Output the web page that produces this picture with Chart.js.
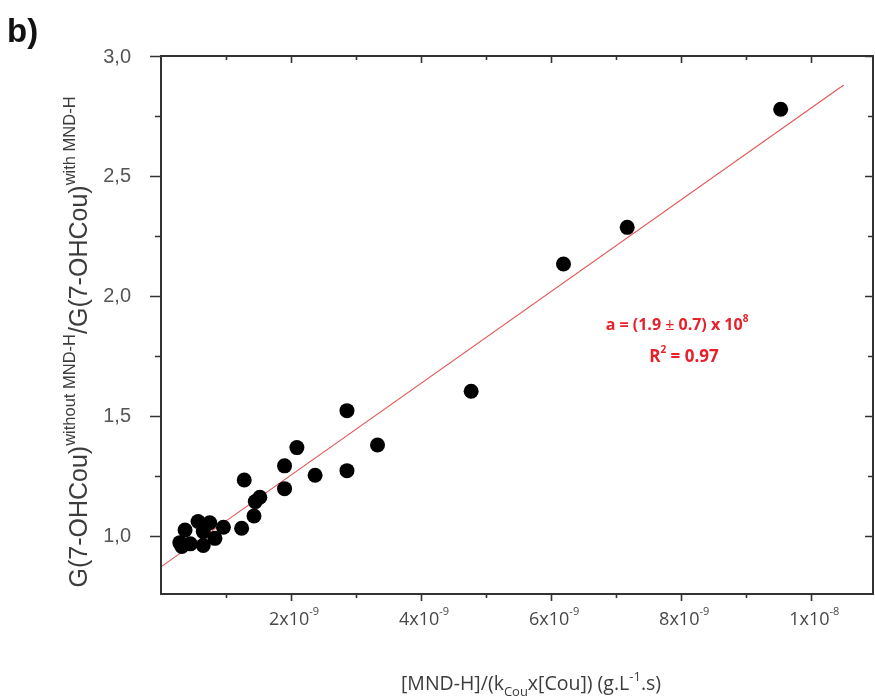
<!DOCTYPE html>
<html lang="en">
<head>
<meta charset="UTF-8">
<title>b) G ratio vs [MND-H]/(kCou x [Cou])</title>
<script src="https://cdn.jsdelivr.net/npm/chart.js"></script>
<style>
    body { margin: 0; background: #ffffff; }
    #wrap { width: 875px; height: 698px; }
</style>
</head>
<body>
<div id="wrap"><canvas id="grafico" width="875" height="698"></canvas></div>
<script>
// data (x in g.L-1.s)
const puntosX = [0.29e-9, 0.32e-9, 0.45e-9, 0.37e-9, 0.57e-9, 0.65e-9, 0.65e-9, 0.75e-9, 0.83e-9, 0.96e-9,
                 1.24e-9, 1.43e-9, 1.45e-9, 1.52e-9, 1.28e-9, 1.90e-9, 1.90e-9, 2.09e-9, 2.37e-9, 2.86e-9,
                 2.86e-9, 3.33e-9, 4.77e-9, 6.19e-9, 7.17e-9, 9.53e-9];
const puntosY = [0.972, 0.956, 0.967, 1.025, 1.060, 1.018, 0.960, 1.055, 0.990, 1.036,
                 1.032, 1.083, 1.143, 1.161, 1.233, 1.197, 1.292, 1.368, 1.253, 1.272,
                 1.522, 1.379, 1.603, 2.133, 2.286, 2.778];
// fitted line end points
const ajusteX = [0, 1.05e-8];
const ajusteY = [0.871, 2.879];

// axes
const xMin = 0, xMax = 1.095e-8;
const yMin = 0.758, yMax = 3.0;
const xMayores = [2e-9, 4e-9, 6e-9, 8e-9, 1e-8];
const xEtiquetas = [['2x10', '-9'], ['4x10', '-9'], ['6x10', '-9'], ['8x10', '-9'], ['1x10', '-8']];
const xMenores = [1e-9, 3e-9, 5e-9, 7e-9, 9e-9];
const yMayores = [1.0, 1.5, 2.0, 2.5, 3.0];
const yEtiquetas = ['1,0', '1,5', '2,0', '2,5', '3,0'];
const yMenores = [1.25, 1.75, 2.25, 2.75];

const rojo = '#e8202a';
const gris = '#3c3c3c';

// draws pieces of text one after another, pieces may be raised or lowered
function textoRico(ctx, partes, x, y) {
    let ancho = 0;
    partes.forEach(p => { ctx.font = p.font; ancho += ctx.measureText(p.t).width; });
    let cx = x - ancho / 2;
    ctx.textAlign = 'left';
    ctx.textBaseline = 'alphabetic';
    partes.forEach(p => {
        ctx.font = p.font;
        ctx.fillText(p.t, cx, y + (p.dy || 0));
        cx += ctx.measureText(p.t).width;
    });
}

const ejes = {
    id: 'ejes',
    afterDraw(chart) {
        const ctx = chart.ctx;
        const a = chart.chartArea;
        const sx = chart.scales.x, sy = chart.scales.y;
        ctx.save();

        // frame
        ctx.strokeStyle = '#333333';
        ctx.lineWidth = 2;
        ctx.strokeRect(a.left, a.top, a.right - a.left, a.bottom - a.top);

        // ticks
        ctx.lineWidth = 1.6;
        ctx.beginPath();
        xMayores.forEach(v => {
            const px = Math.round(sx.getPixelForValue(v)) + 0.5;
            ctx.moveTo(px, a.bottom); ctx.lineTo(px, a.bottom + 7);
            ctx.moveTo(px, a.top); ctx.lineTo(px, a.top + 7);
        });
        xMenores.forEach(v => {
            const px = Math.round(sx.getPixelForValue(v)) + 0.5;
            ctx.moveTo(px, a.bottom); ctx.lineTo(px, a.bottom + 4);
            ctx.moveTo(px, a.top); ctx.lineTo(px, a.top + 4);
        });
        yMayores.forEach(v => {
            const py = Math.round(sy.getPixelForValue(v)) + 0.5;
            ctx.moveTo(a.left - 11, py); ctx.lineTo(a.left, py);
            ctx.moveTo(a.right, py); ctx.lineTo(a.right - 8, py);
        });
        yMenores.forEach(v => {
            const py = Math.round(sy.getPixelForValue(v)) + 0.5;
            ctx.moveTo(a.left - 6, py); ctx.lineTo(a.left, py);
            ctx.moveTo(a.right, py); ctx.lineTo(a.right - 5, py);
        });
        ctx.stroke();

        // y tick labels
        ctx.fillStyle = '#555555';
        ctx.font = '20px "Liberation Sans", Arial, sans-serif';
        ctx.textAlign = 'right';
        ctx.textBaseline = 'middle';
        yMayores.forEach((v, i) => {
            ctx.fillText(yEtiquetas[i], a.left - 30, sy.getPixelForValue(v) + 1);
        });

        // x tick labels
        ctx.fillStyle = '#474747';
        xMayores.forEach((v, i) => {
            const px = sx.getPixelForValue(v);
            textoRico(ctx, [
                { t: xEtiquetas[i][0], font: '18px "Open Sans", sans-serif' },
                { t: xEtiquetas[i][1], font: '11px "Open Sans", sans-serif', dy: -10 }
            ], px + 3, a.bottom + 31);
        });

        // x title
        ctx.fillStyle = '#3c3c3c';
        const f = '19.5px "Open Sans", sans-serif', fs = '13px "Open Sans", sans-serif';
        textoRico(ctx, [
            { t: '[MND-H]/(k', font: f },
            { t: 'Cou', font: fs, dy: 6 },
            { t: 'x[Cou]) (g.L', font: f },
            { t: '-1', font: fs, dy: -9 },
            { t: '.s)', font: f }
        ], 531, a.bottom + 96);

        // y title (rotated)
        ctx.save();
        ctx.translate(87, 342);
        ctx.rotate(-Math.PI / 2);
        ctx.fillStyle = gris;
        const fg = '25px "Liberation Sans", Arial, sans-serif', fsup = '16.5px "Liberation Sans", Arial, sans-serif';
        textoRico(ctx, [
            { t: 'G(7-OHCou)', font: fg },
            { t: 'without MND-H', font: fsup, dy: -12 },
            { t: '/G(7-OHCou)', font: fg },
            { t: 'with MND-H', font: fsup, dy: -12 }
        ], 0, 0);
        ctx.restore();

        // panel letter
        ctx.fillStyle = '#111111';
        ctx.font = 'bold 33px "Liberation Sans", Arial, sans-serif';
        ctx.textAlign = 'left';
        ctx.textBaseline = 'alphabetic';
        ctx.fillText('b)', 7, 42);

        // fit annotation
        ctx.fillStyle = rojo;
        const fb = 'bold 16px "Open Sans", sans-serif', fbs = 'bold 10px "Open Sans", sans-serif';
        textoRico(ctx, [
            { t: 'a = (1.9 ', font: fb },
            { t: '\u00b1', font: '16px "Open Sans", sans-serif' },
            { t: ' 0.7) x 10', font: fb },
            { t: '8', font: fbs, dy: -8 }
        ], 677, 330);
        textoRico(ctx, [
            { t: 'R', font: 'bold 17px "Open Sans", sans-serif' },
            { t: '2', font: fbs, dy: -9 },
            { t: ' = 0.97', font: 'bold 17px "Open Sans", sans-serif' }
        ], 684, 362);

        ctx.restore();
    }
};

const ctx = document.getElementById('grafico').getContext('2d');
new Chart(ctx, {
    type: 'scatter',
    data: {
        datasets: [
            {
                label: 'ajuste',
                type: 'line',
                data: ajusteX.map((x, i) => ({ x: x, y: ajusteY[i] })),
                borderColor: '#e55555',
                borderWidth: 1.1,
                pointRadius: 0,
                fill: false,
                order: 2
            },
            {
                label: 'datos',
                data: puntosX.map((x, i) => ({ x: x, y: puntosY[i] })),
                backgroundColor: '#000000',
                borderColor: '#000000',
                pointRadius: 7.5,
                borderWidth: 0,
                order: 1
            }
        ]
    },
    options: {
        responsive: false,
        animation: false,
        layout: { autoPadding: false, padding: { left: 161, right: 2, top: 56, bottom: 104 } },
        plugins: { legend: { display: false }, tooltip: { enabled: false } },
        scales: {
            x: { type: 'linear', min: xMin, max: xMax, display: false },
            y: { type: 'linear', min: yMin, max: yMax, display: false }
        }
    },
    plugins: [ejes]
});
</script>
</body>
</html>
